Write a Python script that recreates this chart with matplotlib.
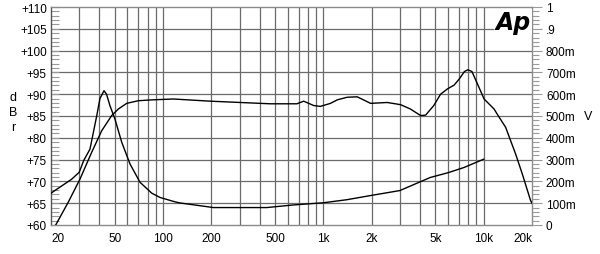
import numpy as np
import matplotlib
matplotlib.use('Agg')
import matplotlib.pyplot as plt
from matplotlib.ticker import FixedLocator, MultipleLocator, NullFormatter

plt.rcParams['font.family'] = ['Liberation Sans', 'DejaVu Sans']
plt.rcParams['font.size'] = 8.5

# level response (dBr, left axis)
freq_a = [21.4, 25.6, 30.3, 35.8, 41.4, 47.8, 52.6, 59.3, 70, 85, 116, 197, 303,
          466, 684, 753, 870, 957, 1107, 1219, 1407, 1625, 1970, 2500, 3030,
          3490, 4040, 4340, 4880, 5380, 5930, 6540, 7040, 7580, 7960, 8440,
          9230, 10050, 11600, 12150, 13700, 15800, 17400, 19600, 20000]
dbr_a = [60.0, 65.2, 70.5, 76.6, 81.6, 85.1, 86.6, 87.9, 88.5, 88.7, 88.9, 88.4, 88.1,
         87.8, 87.8, 88.4, 87.4, 87.2, 87.9, 88.7, 89.3, 89.4, 87.9, 88.1, 87.6,
         86.6, 85.1, 85.2, 87.4, 90.0, 91.2, 92.1, 93.5, 95.2, 95.6, 95.2,
         92.0, 88.9, 86.6, 85.4, 82.4, 76.3, 71.7, 65.6, 65.0]

# voltage curve (V, right axis)
freq_b = [20, 26.9, 30, 32, 35, 38.6, 40.4, 42.8, 44.4, 46.6, 50.1, 55.2, 62.2, 71.8,
          85, 96, 119, 128, 206, 444, 650, 1000, 1400, 2000, 3000, 4640, 6000,
          7545, 10000]
volt_b = [0.146, 0.21, 0.242, 0.296, 0.348, 0.502, 0.58, 0.616, 0.60, 0.548, 0.486,
          0.38, 0.28, 0.196, 0.146, 0.126, 0.106, 0.101, 0.08, 0.08, 0.092, 0.102,
          0.116, 0.136, 0.158, 0.218, 0.24, 0.264, 0.302]

x_grid = [30, 40, 50, 60, 70, 80, 90, 100, 200, 300, 400, 500, 600, 700, 800, 900,
          1000, 2000, 3000, 4000, 5000, 6000, 7000, 8000, 9000, 10000]
x_ticks = [20, 50, 100, 200, 500, 1000, 2000, 5000, 10000, 20000]
x_labels = ['20', '50', '100', '200', '500', '1k', '2k', '5k', '10k', '20k']
y_ticks = [60, 65, 70, 75, 80, 85, 90, 95, 100, 105, 110]
v_ticks = [0, 0.1, 0.2, 0.3, 0.4, 0.5, 0.6, 0.7, 0.8, 0.9, 1.0]
v_labels = ['0', '100m', '200m', '300m', '400m', '500m', '600m', '700m', '800m', '.9', '1']

gc = '#6a6a6a'
fig = plt.figure(figsize=(6, 2.55), dpi=100)
ax = fig.add_axes([51 / 600, 1 - 226 / 255, 481 / 600, 218 / 255])
ax.set_xscale('log')
ax.set_xlim(20, 20000)
ax.set_ylim(60, 110)

for f in x_grid:
    ax.axvline(f, color=gc, lw=0.9, zorder=1)
for v in y_ticks[1:-1]:
    ax.axhline(v, color=gc, lw=0.9, zorder=1)

ax.xaxis.set_major_locator(FixedLocator(x_ticks))
ax.xaxis.set_minor_locator(FixedLocator([]))
ax.xaxis.set_minor_formatter(NullFormatter())
ax.set_xticklabels(x_labels)
ax.tick_params(axis='x', length=0, pad=5, labelsize=8.5)
lbls = ax.get_xticklabels()
lbls[0].set_ha('left')
lbls[-1].set_ha('right')

ax.set_yticks(y_ticks)
ax.set_yticklabels(['+%d' % v for v in y_ticks])
ax.yaxis.set_minor_locator(MultipleLocator(1))
ax.tick_params(axis='y', which='both', direction='in', length=6, width=0.8,
               color='#9a9a9a', pad=3, labelsize=8.5)

for s in ax.spines.values():
    s.set_color('#8a8a8a')
    s.set_linewidth(1.0)
ax.spines['left'].set_color('#555555')

ax.plot(freq_a, dbr_a, color='black', lw=1.0, zorder=3)

ax2 = ax.twinx()
ax2.set_ylim(0, 1)
ax2.set_yticks(v_ticks)
ax2.set_yticklabels(v_labels)
ax2.yaxis.set_minor_locator(MultipleLocator(0.02))
ax2.tick_params(axis='y', which='major', direction='out', length=7, width=0.8,
                color='#9a9a9a', pad=3, labelsize=8.5)
ax2.tick_params(axis='y', which='minor', direction='out', length=5, width=0.8,
                color='#9a9a9a')
for s in ax2.spines.values():
    s.set_visible(False)
ax2.plot(freq_b, volt_b, color='black', lw=1.0, zorder=3)

ax2.text(0.997, 0.985, 'Ap', transform=ax.transAxes, ha='right', va='top',
         fontsize=17, fontweight='bold', style='italic', family='DejaVu Sans',
         color='black', zorder=5,
         bbox=dict(boxstyle='square,pad=0.05', fc='white', ec='none'))

for ch, yy in zip('dBr', [98, 113, 128]):
    fig.text(13 / 600, 1 - yy / 255, ch, ha='center', va='center', fontsize=9)
fig.text(588 / 600, 1 - 117 / 255, 'V', ha='center', va='center', fontsize=9)

fig.savefig('out.png', dpi=100)
